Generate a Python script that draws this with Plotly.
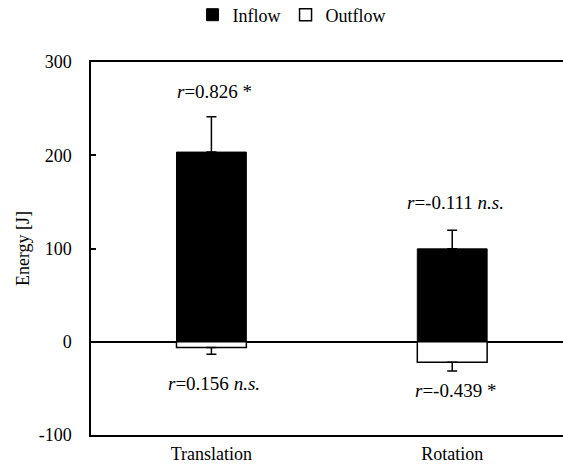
import plotly.graph_objects as go

categories = ["Translation", "Rotation"]
inflow = [203.4, 99.6]
inflow_err = [38.0, 20.0]
outflow = [-6.3, -22.0]
outflow_err = [7.0, 9.5]
r_labels_in = ["<i>r</i>=0.826 *", "<i>r</i>=-0.111 <i>n.s.</i>"]
r_labels_out = ["<i>r</i>=0.156 <i>n.s.</i>", "<i>r</i>=-0.439 *"]
y_ticks = [-100, 0, 100, 200, 300]

FONT = "Liberation Serif, Times New Roman, serif"

fig = go.Figure()
fig.add_trace(go.Bar(
    name="Inflow", x=categories, y=inflow, width=0.29,
    marker=dict(color="black", line=dict(color="black", width=1)),
    error_y=dict(type="data", symmetric=False, array=inflow_err,
                 arrayminus=[0] * len(inflow), color="black", thickness=1.5, width=5),
))
fig.add_trace(go.Bar(
    name="Outflow", x=categories, y=outflow, width=0.29,
    marker=dict(color="white", line=dict(color="black", width=1.5)),
    error_y=dict(type="data", symmetric=False, array=[0] * len(outflow),
                 arrayminus=outflow_err, color="black", thickness=1.5, width=5),
))

label_y_in = [268, 149]
label_y_out = [-45, -52]
annotations = []
for i, c in enumerate(categories):
    annotations.append(dict(x=c, y=label_y_in[i], text=r_labels_in[i], showarrow=False,
                            xshift=3, font=dict(family=FONT, size=19, color="black")))
    annotations.append(dict(x=c, y=label_y_out[i], text=r_labels_out[i], showarrow=False,
                            xshift=3, font=dict(family=FONT, size=19, color="black")))

fig.update_layout(
    width=563, height=468,
    margin=dict(l=91, r=0, t=62, b=33, autoexpand=False),
    barmode="overlay",
    plot_bgcolor="white", paper_bgcolor="white",
    font=dict(family=FONT, size=18, color="black"),
    showlegend=True,
    legend=dict(orientation="h", xref="container", yref="container",
                x=0.342, xanchor="left", y=1 - 15 / 468, yanchor="middle",
                font=dict(family=FONT, size=18, color="black"),
                itemwidth=30, tracegroupgap=0,
                bgcolor="rgba(0,0,0,0)"),
    annotations=annotations,
)
fig.update_xaxes(
    type="category", range=[-0.5, 1.46], automargin=False,
    showline=True, linecolor="black", linewidth=1.5, mirror=True,
    ticks="", showgrid=False, zeroline=False,
    tickfont=dict(family=FONT, size=18, color="black"),
    ticklabelstandoff=2,
)
fig.update_yaxes(
    range=[-100, 300], tickvals=y_ticks, ticktext=[str(v) for v in y_ticks],
    automargin=False,
    showline=True, linecolor="black", linewidth=1.5, mirror=False,
    ticks="inside", ticklen=5, tickcolor="black", tickwidth=1.5,
    showgrid=False, zeroline=True, zerolinecolor="black", zerolinewidth=1.5,
    tickfont=dict(family=FONT, size=18, color="black"),
    ticklabelstandoff=14,
    title=dict(text="Energy [J]", font=dict(family=FONT, size=18, color="black"), standoff=4),
)

fig.write_html("out.html", config={"displayModeBar": False},
               post_script="document.body.style.margin='0';")
